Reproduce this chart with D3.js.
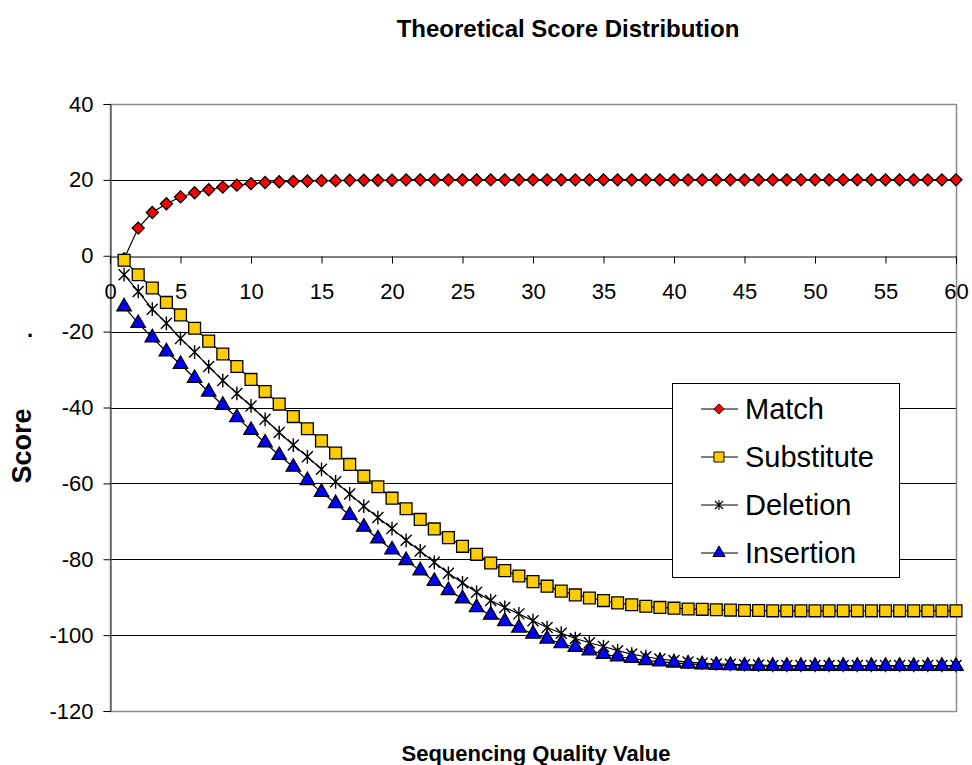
<!DOCTYPE html>
<html>
<head>
<meta charset="utf-8">
<script src="https://cdn.jsdelivr.net/npm/d3@7"></script>
<style>
  body { margin: 0; background: #fff; }
  svg { display: block; font-family: "Liberation Sans", Arial, sans-serif; }
</style>
</head>
<body>
<svg width="972" height="765"></svg>
<script>
// quality values on the x axis
const quality = d3.range(1, 61);

const match = [-0.8, 7.3, 11.4, 13.7, 15.5, 16.6, 17.4, 18.1, 18.6, 19.0,
  19.3, 19.5, 19.6, 19.7, 19.8, 19.8, 19.9, 19.9, 19.9, 19.9,
  20, 20, 20, 20, 20, 20, 20, 20, 20, 20,
  20, 20, 20, 20, 20, 20, 20, 20, 20, 20,
  20, 20, 20, 20, 20, 20, 20, 20, 20, 20,
  20, 20, 20, 20, 20, 20, 20, 20, 20, 20];

const substitute = [-1.2, -5.0, -8.5, -12.3, -15.6, -19.1, -22.5, -25.9, -29.2, -32.6,
  -35.8, -39.1, -42.4, -45.6, -48.8, -52.0, -55.0, -58.1, -60.9, -63.9,
  -66.7, -69.5, -72.0, -74.3, -76.6, -78.7, -81.0, -83.0, -84.4, -85.9,
  -87.1, -88.4, -89.4, -90.2, -90.9, -91.5, -92.0, -92.4, -92.7, -92.9,
  -93.1, -93.2, -93.3, -93.4, -93.5, -93.5, -93.6, -93.6, -93.6, -93.6,
  -93.6, -93.6, -93.6, -93.6, -93.6, -93.6, -93.6, -93.6, -93.6, -93.6];

const deletion = [-5.0, -9.4, -14.1, -17.8, -21.8, -25.4, -29.2, -32.9, -36.3, -39.6,
  -43.1, -46.6, -49.9, -53.0, -56.3, -59.6, -62.8, -66.0, -69.0, -71.9,
  -75.0, -77.8, -80.8, -83.7, -86.2, -88.7, -90.9, -92.7, -94.4, -96.2,
  -98.0, -99.5, -100.9, -102.0, -103.0, -104.1, -105.0, -105.7, -106.3, -106.7,
  -107.1, -107.4, -107.6, -107.7, -107.8, -107.9, -108.0, -108.0, -108.0, -108.0,
  -108.0, -108.0, -108.0, -108.0, -108.0, -108.0, -108.0, -108.0, -108.0, -108.0];

const insertion = [-13.4, -17.8, -21.6, -25.3, -28.6, -32.3, -35.9, -39.4, -42.6, -46.0,
  -49.3, -52.6, -55.7, -59.2, -62.3, -65.3, -68.4, -71.5, -74.6, -77.5,
  -80.3, -83.0, -85.8, -88.2, -90.4, -92.7, -94.7, -96.4, -98.1, -99.7,
  -101.0, -102.2, -103.2, -104.1, -105.0, -105.7, -106.1, -106.7, -107.0, -107.3,
  -107.6, -107.8, -107.9, -108.0, -108.1, -108.2, -108.2, -108.2, -108.2, -108.2,
  -108.2, -108.2, -108.2, -108.2, -108.2, -108.2, -108.2, -108.2, -108.2, -108.2];

const seriesNames = ["Match", "Substitute", "Deletion", "Insertion"];
const xTicks = d3.range(0, 61, 5);
const yTicks = [40, 20, 0, -20, -40, -60, -80, -100, -120];

const svg = d3.select("svg");
const font = '"Liberation Sans", Arial, sans-serif';

let x = d3.scaleLinear().domain([0, 60]).range([110, 956]);
let y = d3.scaleLinear().domain([-120, 40]).range([711, 104]);

// marker shapes, excel-ish
function starPath(s) {
  const r = s / 2;
  return `M${-r},${-r}L${r},${r}M${-r},${r}L${r},${-r}M0,${-r * 1.25}L0,${r * 1.25}`;
}
const markers = {
  Match: { fill: "#ff0000", path: d3.symbol(d3.symbolSquare, 72)(), rot: 45 },
  Substitute: { fill: "#ffcc00", path: d3.symbol(d3.symbolSquare, 140)(), rot: 0 },
  Deletion: { fill: "none", path: starPath(11), rot: 0 },
  Insertion: { fill: "#0000ff", path: d3.symbol(d3.symbolTriangle, 90)(), rot: 0 }
};
const legendStar = starPath(8);

const series = [
  { name: "Match", values: match },
  { name: "Substitute", values: substitute },
  { name: "Deletion", values: deletion },
  { name: "Insertion", values: insertion }
];

// gridlines
svg.append("g")
  .selectAll("line").data(yTicks.filter(d => d !== 40 && d !== -120 && d !== 0))
  .join("line")
  .attr("x1", x(0)).attr("x2", x(60))
  .attr("y1", d => Math.round(y(d)) + 0.5).attr("y2", d => Math.round(y(d)) + 0.5)
  .attr("stroke", "#000").attr("stroke-width", 1);

// plot border (gray)
svg.append("rect")
  .attr("x", x(0) + 0.5).attr("y", Math.round(y(40)) + 0.5)
  .attr("width", x(60) - x(0)).attr("height", Math.round(y(-120)) - Math.round(y(40)))
  .attr("fill", "none").attr("stroke", "#8c8c8c").attr("stroke-width", 1.5);

// y axis
let yAxis = svg.append("g")
  .attr("transform", `translate(${x(0) + 0.5},0)`)
  .call(d3.axisLeft(y).tickValues(yTicks).tickFormat(d => String(d)).tickSize(7).tickPadding(10));
yAxis.select(".domain").attr("stroke", "#333");
yAxis.selectAll(".tick line").attr("stroke", "#000");
yAxis.selectAll("text").attr("font-family", font).attr("font-size", 22).attr("fill", "#000");

// x axis at zero
let xAxis = svg.append("g")
  .attr("transform", `translate(0,${Math.round(y(0)) + 0.5})`)
  .call(d3.axisBottom(x).tickValues(xTicks).tickFormat(d => String(d)).tickSize(7).tickPadding(20));
xAxis.select(".domain").attr("stroke", "#000");
xAxis.selectAll(".tick line").attr("stroke", "#000");
xAxis.selectAll("text").attr("font-family", font).attr("font-size", 22).attr("fill", "#000");

// lines + markers
let line = d3.line().x((d, i) => x(quality[i])).y(d => y(d));
series.forEach(s => {
  let g = svg.append("g");
  g.append("path").datum(s.values)
    .attr("d", line).attr("fill", "none").attr("stroke", "#000").attr("stroke-width", 1.2);
  let m = markers[s.name];
  g.selectAll("path.mk").data(s.values).join("path")
    .attr("class", "mk")
    .attr("d", m.path)
    .attr("transform", (d, i) => `translate(${x(quality[i])},${y(d)}) rotate(${m.rot})`)
    .attr("fill", m.fill)
    .attr("stroke", "#000")
    .attr("stroke-width", s.name === "Deletion" ? 1.4 : 1.3);
});

// legend
let legend = svg.append("g");
legend.append("rect")
  .attr("x", 672.5).attr("y", 383.5).attr("width", 227).attr("height", 194)
  .attr("fill", "#fff").attr("stroke", "#000").attr("stroke-width", 1);
seriesNames.forEach((name, i) => {
  let cy = 409 + i * 48;
  let m = markers[name];
  legend.append("line").attr("x1", 701).attr("x2", 738).attr("y1", cy).attr("y2", cy)
    .attr("stroke", "#000").attr("stroke-width", 1.2);
  legend.append("path").attr("d", name === "Deletion" ? legendStar : m.path)
    .attr("transform", `translate(719,${cy}) rotate(${m.rot}) scale(${name === "Deletion" ? 1 : 0.85})`)
    .attr("fill", m.fill).attr("stroke", "#000").attr("stroke-width", 1.1);
  legend.append("text").attr("x", 745).attr("y", cy + 10)
    .attr("font-family", font).attr("font-size", 29).text(name);
});

// titles
svg.append("text").attr("x", 568).attr("y", 37).attr("text-anchor", "middle")
  .attr("font-family", font).attr("font-size", 24).attr("font-weight", "bold")
  .text("Theoretical Score Distribution");
svg.append("text").attr("x", 536).attr("y", 761).attr("text-anchor", "middle")
  .attr("font-family", font).attr("font-size", 22).attr("font-weight", "bold")
  .text("Sequencing Quality Value");
svg.append("text").attr("transform", "translate(31,446) rotate(-90)").attr("text-anchor", "middle")
  .attr("font-family", font).attr("font-size", 27).attr("font-weight", "bold")
  .text("Score");
svg.append("text").attr("x", 30).attr("y", 337).attr("text-anchor", "middle")
  .attr("font-family", font).attr("font-size", 22).attr("font-weight", "bold")
  .text(".");
</script>
</body>
</html>
